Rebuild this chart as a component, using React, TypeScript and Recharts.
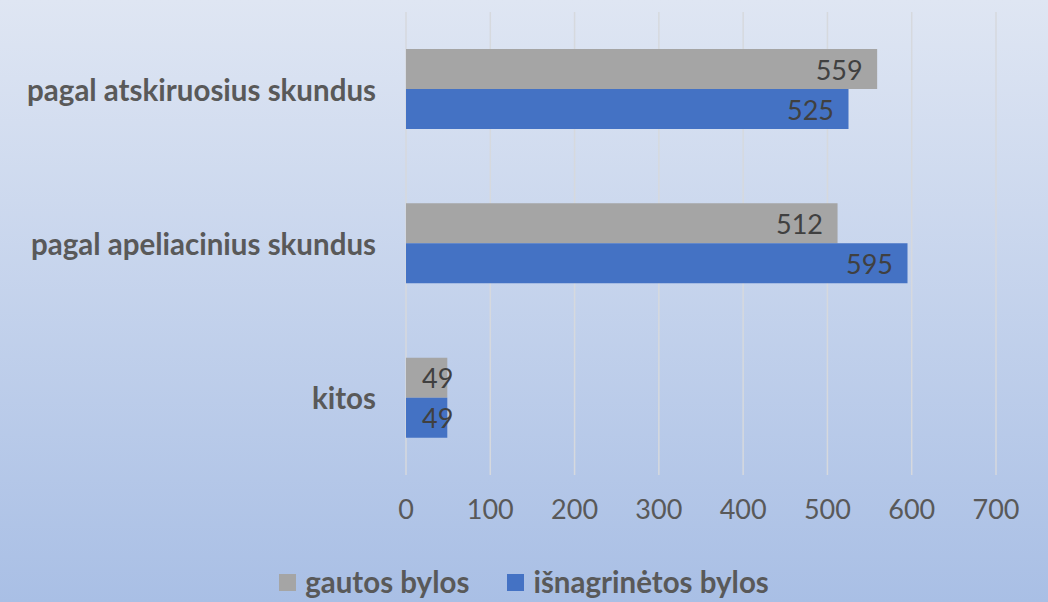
import React from 'react';
import { BarChart, Bar, XAxis, YAxis, CartesianGrid, LabelList } from 'recharts';

// categories, top to bottom
const categories = ['pagal atskiruosius skundus', 'pagal apeliacinius skundus', 'kitos'];
const gautos = [559, 512, 49];
const isnagrinetos = [525, 595, 49];
const xTicks = [0, 100, 200, 300, 400, 500, 600, 700];

const series = [
  { key: 'gautos', name: 'gautos bylos', color: '#A5A5A5' },
  { key: 'isnagrinetos', name: 'išnagrinėtos bylos', color: '#4472C4' },
];

const data = categories.map((name, i) => ({
  name,
  gautos: gautos[i],
  isnagrinetos: isnagrinetos[i],
}));

const FONT = 'Lato, "Open Sans", sans-serif';

const CategoryTick = ({ x, y, payload }: any) => (
  <text
    x={x}
    y={y}
    dx={-22}
    textAnchor="end"
    dominantBaseline="central"
    fill="#595959"
    fontFamily={FONT}
    fontWeight={700}
    fontSize={29.5}
  >
    {payload.value}
  </text>
);

const ValueTick = ({ x, y, payload }: any) => (
  <text
    x={x}
    y={y}
    dy={25}
    textAnchor="middle"
    dominantBaseline="central"
    fill="#595959"
    fontFamily={FONT}
    fontSize={27}
  >
    {payload.value}
  </text>
);

// label sits inside the bar end, but is pushed right when the bar is too short
const BarValue = ({ x, y, width, height, value }: any) => {
  const textW = String(value).length * 15.5;
  const start = Math.max(x + width - 15 - textW, x + 16);
  return (
    <text
      x={start}
      y={y + height / 2}
      textAnchor="start"
      dominantBaseline="central"
      fill="#404040"
      fontFamily={FONT}
      fontSize={27}
    >
      {value}
    </text>
  );
};

export default function App() {
  return (
    <div
      style={{
        position: 'absolute',
        top: 0,
        left: 0,
        width: 1048,
        height: 602,
        overflow: 'hidden',
        background: 'linear-gradient(to bottom, #DFE6F3 0%, #A9BFE5 100%)',
      }}
    >
      <BarChart
        layout="vertical"
        width={1048}
        height={602}
        data={data}
        margin={{ top: 12, right: 52, bottom: 67, left: 0 }}
        barCategoryGap="24%"
        barGap={0}
      >
        <CartesianGrid horizontal={false} stroke="#D6D9DE" strokeWidth={1.5} />
        <XAxis
          type="number"
          domain={[0, 700]}
          ticks={xTicks}
          axisLine={false}
          tickLine={false}
          tick={<ValueTick />}
          height={60}
        />
        <YAxis
          type="category"
          dataKey="name"
          width={406}
          axisLine={false}
          tickLine={false}
          tick={<CategoryTick />}
        />
        {series.map((s) => (
          <Bar key={s.key} dataKey={s.key} name={s.name} fill={s.color} isAnimationActive={false}>
            <LabelList dataKey={s.key} content={<BarValue />} />
          </Bar>
        ))}
      </BarChart>
      <div
        style={{
          position: 'absolute',
          left: 0,
          width: 1048,
          top: 564,
          display: 'flex',
          justifyContent: 'center',
          gap: 38,
          fontFamily: FONT,
          fontWeight: 700,
          fontSize: 29.5,
          color: '#595959',
          lineHeight: '36px',
        }}
      >
        {series.map((s) => (
          <div key={s.key} style={{ display: 'flex', alignItems: 'center' }}>
            <span
              style={{ display: 'inline-block', width: 17, height: 17, background: s.color, marginRight: 9 }}
            />
            <span>{s.name}</span>
          </div>
        ))}
      </div>
    </div>
  );
}
